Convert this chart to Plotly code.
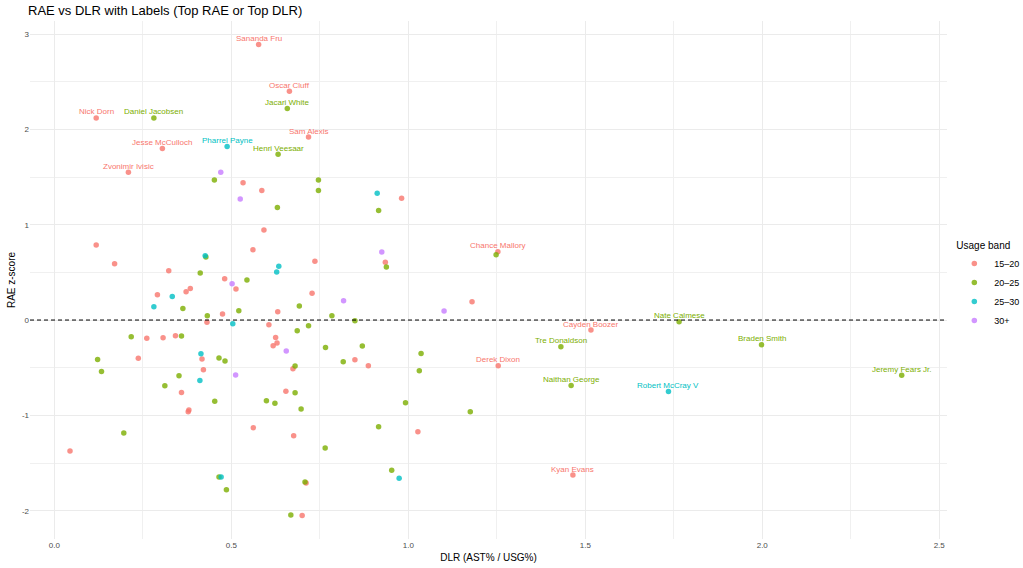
import plotly.graph_objects as go

# ---- data ----
bands = ["15–20", "20–25", "25–30", "30+"]
band_colors = ["#F8766D", "#7CAE00", "#00BFC4", "#C77CFF"]

dlr_15_20 = [0.577, 0.664, 0.118, 0.718, 0.305, 0.209, 0.533, 0.586, 0.981, 0.592,
             0.118, 0.170, 0.561, 0.736, 0.323, 0.481, 0.513, 0.291, 0.372, 0.384,
             0.728, 0.475, 0.631, 0.431, 0.606, 0.261, 0.307, 0.342, 0.625, 0.629,
             0.618, 0.237, 0.417, 0.849, 0.887, 0.674, 0.421, 0.359, 0.654, 0.378,
             0.380, 0.044, 0.562, 0.676, 0.711, 0.700, 1.253, 0.935, 1.180, 1.516,
             1.254, 1.027, 1.465]
rae_15_20 = [2.89, 2.40, 2.12, 1.92, 1.80, 1.55, 1.44, 1.36, 1.277, 0.944,
             0.787, 0.591, 0.738, 0.616, 0.517, 0.434, 0.325, 0.266, 0.297, 0.332,
             0.280, 0.063, 0.087, -0.024, -0.049, -0.192, -0.185, -0.164, -0.182, -0.241,
             -0.269, -0.402, -0.409, -0.416, -0.479, -0.511, -0.521, -0.759, -0.748, -0.962,
             -0.944, -1.375, -1.13, -1.214, -1.71, -2.05, 0.717, 0.605, 0.192, -0.105,
             -0.479, -1.172, -1.626]
lbl_15_20 = ["Sananda Fru", "Oscar Cluff", "Nick Dorn", "Sam Alexis", "Jesse McCulloch",
             "Zvonimir Ivisic"] + [""] * 40 + ["Chance Mallory", "", "", "Cayden Boozer",
             "Derek Dixon", "", "Kyan Evans"]

dlr_20_25 = [0.658, 0.281, 0.632, 0.452, 0.746, 0.746, 0.630, 0.916, 0.428, 0.412,
             0.544, 0.363, 0.521, 0.432, 0.692, 0.784, 0.849, 0.686, 0.718, 0.217,
             0.359, 0.766, 0.870, 0.122, 0.465, 0.482, 0.816, 0.680, 0.133, 0.352,
             0.312, 0.680, 0.453, 0.599, 0.623, 0.697, 0.196, 0.765, 0.465, 0.486,
             0.708, 0.668, 0.916, 0.938, 1.248, 1.431, 1.036, 1.031, 1.460, 0.992,
             1.175, 0.953, 1.765, 1.998, 2.394]
rae_20_25 = [2.22, 2.12, 1.74, 1.47, 1.47, 1.36, 1.18, 1.15, 0.66, 0.493,
             0.420, 0.122, 0.098, 0.045, 0.147, 0.045, -0.007, -0.112, -0.059, -0.175,
             -0.168, -0.287, -0.273, -0.413, -0.399, -0.430, -0.437, -0.483, -0.539, -0.584,
             -0.689, -0.763, -0.853, -0.846, -0.874, -0.934, -1.186, -1.343, -1.647, -1.78,
             -1.70, -2.046, -1.12, 0.556, 0.685, -0.28, -0.35, -0.532, -0.686, -0.867,
             -0.962, -1.577, -0.017, -0.259, -0.58]
lbl_20_25 = ["Jacari White", "Daniel Jacobsen", "Henri Veesaar"] + [""] * 42 + \
            ["Tre Donaldson", "", "", "Naithan George", "", "", "",
             "Nate Calmese", "Braden Smith", "Jeremy Fears Jr."]

dlr_25_30 = [0.488, 0.912, 0.426, 0.634, 0.628, 0.333, 0.281, 0.504, 0.414, 0.411,
             0.471, 0.974, 1.735]
rae_25_30 = [1.82, 1.33, 0.675, 0.563, 0.504, 0.248, 0.140, -0.039, -0.353, -0.633,
             -1.647, -1.661, -0.749]
lbl_25_30 = ["Pharrel Payne"] + [""] * 11 + ["Robert McCray V"]

dlr_30p = [0.470, 0.525, 0.502, 0.817, 0.655, 0.512, 0.925, 1.101]
rae_30p = [1.55, 1.27, 0.381, 0.203, -0.325, -0.577, 0.714, 0.094]
lbl_30p = [""] * 8

x_ticks = [0.0, 0.5, 1.0, 1.5, 2.0, 2.5]
x_tick_labels = ["0.0", "0.5", "1.0", "1.5", "2.0", "2.5"]
y_ticks = [-2, -1, 0, 1, 2, 3]
y_tick_labels = ["-2", "-1", "0", "1", "2", "3"]

series = [
    (dlr_15_20, rae_15_20, lbl_15_20),
    (dlr_20_25, rae_20_25, lbl_20_25),
    (dlr_25_30, rae_25_30, lbl_25_30),
    (dlr_30p, rae_30p, lbl_30p),
]

FONT = "Liberation Sans, Arial, sans-serif"

fig = go.Figure()
for name, color, (xs, ys, ls) in zip(bands, band_colors, series):
    fig.add_trace(go.Scatter(
        x=xs, y=ys, name=name, mode="markers",
        marker=dict(size=5.5, color=color, opacity=0.8, line=dict(width=0)),
        cliponaxis=False,
    ))
    for xv, yv, lab in zip(xs, ys, ls):
        if lab:
            fig.add_annotation(x=xv, y=yv, text=lab, showarrow=False,
                               xanchor="center", yanchor="middle", yshift=6,
                               font=dict(family=FONT, size=8, color=color))

fig.add_hline(y=0, line=dict(color="black", width=1, dash="4px,3px"))

fig.update_layout(
    width=1023, height=568,
    paper_bgcolor="white", plot_bgcolor="white",
    margin=dict(l=30, r=76, t=21, b=29, autoexpand=False),
    font=dict(family=FONT, color="#4D4D4D"),
    title=dict(text="RAE vs DLR with Labels (Top RAE or Top DLR)",
               x=28 / 1023, xanchor="left", xref="container",
               y=1 - 10 / 568, yanchor="middle", yref="container",
               font=dict(family=FONT, size=13, color="black")),
    legend=dict(title=dict(text="Usage band", font=dict(size=10, color="black")),
                font=dict(size=9, color="black"),
                x=1.008, xanchor="left", y=0.585, yanchor="top",
                bgcolor="rgba(0,0,0,0)", itemsizing="trace", itemwidth=30,
                tracegroupgap=0),
    showlegend=True,
)

fig.update_xaxes(
    range=[-0.069, 2.522], tickvals=x_ticks, ticktext=x_tick_labels,
    showgrid=True, gridcolor="#EBEBEB", gridwidth=1.1, zeroline=False,
    showline=False, ticks="", tickfont=dict(size=8, color="#4D4D4D"),
    minor=dict(tickvals=[0.25, 0.75, 1.25, 1.75, 2.25], showgrid=True,
               gridcolor="#F0F0F0", gridwidth=0.6),
    title=dict(text="DLR (AST% / USG%)", font=dict(size=10, color="black"), standoff=4),
    automargin=False,
)
fig.update_yaxes(
    range=[-2.297, 3.137], tickvals=y_ticks, ticktext=y_tick_labels,
    showgrid=True, gridcolor="#EBEBEB", gridwidth=1.1, zeroline=False,
    showline=False, ticks="", tickfont=dict(size=8, color="#4D4D4D"),
    minor=dict(tickvals=[-1.5, -0.5, 0.5, 1.5, 2.5], showgrid=True,
               gridcolor="#F0F0F0", gridwidth=0.6),
    title=dict(text="RAE z-score", font=dict(size=10, color="black"), standoff=4),
    automargin=False,
)

fig.write_html("out.html",
               config={"displayModeBar": False},
               post_script="document.body.style.margin='0';"
                           "document.body.style.overflow='hidden';")
